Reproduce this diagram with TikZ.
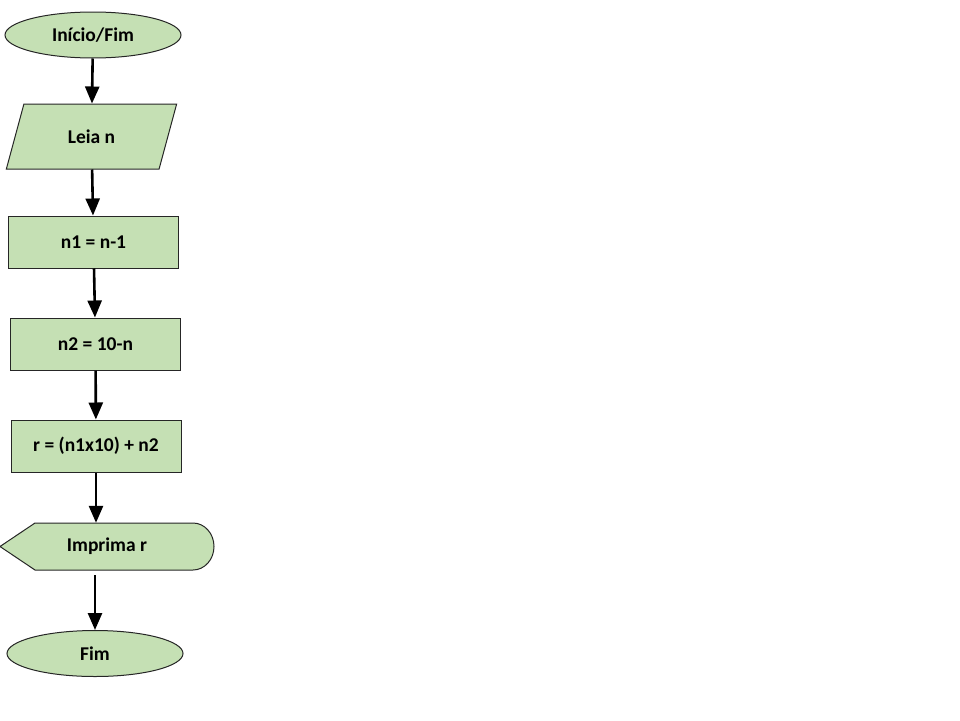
\documentclass[tikz,border=0pt]{standalone}
\usepackage{fontspec}
\setmainfont{Carlito}
\usepackage{tikz}
\usetikzlibrary{arrows.meta}
\usetikzlibrary{shapes.geometric}
\definecolor{boxgreen}{HTML}{C5E0B4}
\newcommand{\fnode}[4]{\node(#1)[#2] at (#3){#4}}

\begin{document}
\begin{tikzpicture}[
        x=1pt, y=-1pt,
        every node/.style={font=\fontsize{19.5}{23}\selectfont\bfseries},
        shapeline/.style={draw=black!85,line width=1pt,fill=boxgreen},
        terminal/.style={shapeline,ellipse,inner sep=0pt,minimum width=176pt,minimum height=46pt},
        inout/.style={shapeline,trapezium,trapezium left angle=66,trapezium right angle=114,
                      trapezium stretches=true,inner sep=0pt,minimum width=171pt,minimum height=65pt},
        process/.style={shapeline,rectangle,inner sep=0pt,minimum width=170pt,minimum height=52pt},
        display/.style={rectangle,inner sep=0pt,minimum width=214pt,minimum height=47pt},
        flow/.style={line width=2.6pt,-{Triangle[length=17pt,width=14pt]}}
      ]
      \useasboundingbox (0,0) rectangle (960,720);
      % output shape: pointed left end, round right end
      \path[shapeline] (0,546.5) -- (35,523) -- (193,523)
            arc[start angle=-90,end angle=90,x radius=21,y radius=23.5] -- (35,570) -- cycle;
      \fnode{start}{terminal}{93,35}{Início/Fim};
      \fnode{read}{inout}{91.5,136.5}{Leia n};
      \fnode{n1}{process}{93.5,242}{n1 = n-1};
      \fnode{n2}{process}{95.5,344}{n2 = 10-n};
      \fnode{res}{process}{96,446}{r = (n1x10) + n2};
      \fnode{print}{display}{107,546.5}{Imprima r};
      \fnode{stop}{terminal}{95,653.5}{Fim};
      \draw[flow] (start) -- (read);
      \draw[flow] (read) -- (n1);
      \draw[flow] (n1) -- (n2);
      \draw[flow] (n2) -- (res);
      \draw[flow] (res) -- (res|-print.north);
      \draw[flow] ([yshift=-5pt]print.south-|stop) -- (stop);
\end{tikzpicture}
\end{document}
